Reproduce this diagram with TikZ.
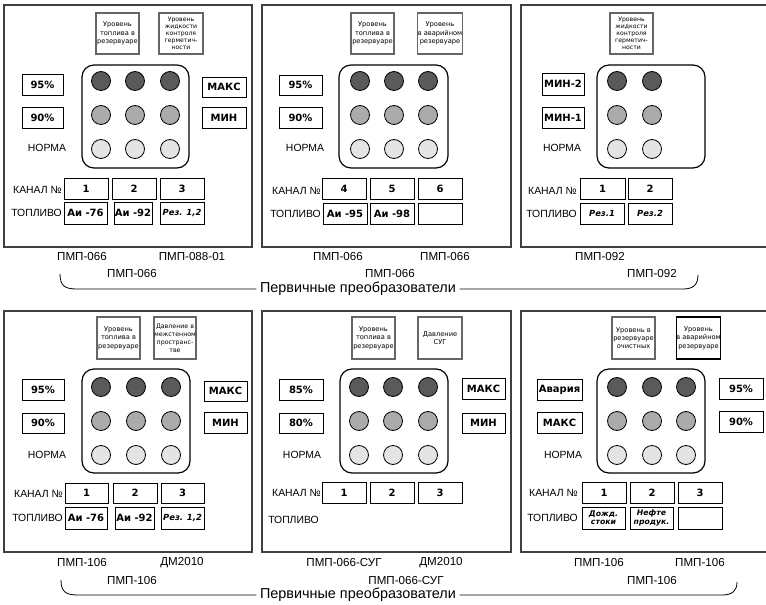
\documentclass[tikz,border=0pt]{standalone}
\usepackage{fontspec}
\setmainfont{Liberation Sans}
\newfontfamily\dvs{DejaVu Sans}
\definecolor{lampdk}{HTML}{5A5A5A}
\definecolor{lampmd}{HTML}{ABABAB}
\definecolor{lamplt}{HTML}{E4E4E4}
\newcommand{\mkbox}[7][]{\node[#1, minimum width={(#4-#2)*0.75pt}, minimum height={(#5-#3)*0.75pt}] (#6) at ({(#2+#4)/2},{(#3+#5)/2}) {#7};}
\newcommand{\mklamps}[4]{% prefix, list of x, y top row, step
  \foreach \cx [count=\ci] in {#2} {
    \node[lamp, fill=lampdk] (#1a\ci) at (\cx,#3) {};
    \node[lamp, fill=lampmd] (#1b\ci) at (\cx,{#3+#4}) {};
    \node[lamp, fill=lamplt] (#1c\ci) at (\cx,{#3+2*#4}) {};
  }}
\tikzset{
  panel/.style={draw=black!75, line width=0.8pt, inner sep=0pt},
  hdr/.style={draw=black!60, line width=0.9pt, inner sep=0pt, align=center, font=\dvs\fontsize{5}{6.2}\selectfont},
  hdrfive/.style={hdr, font=\dvs\fontsize{4.6}{5.3}\selectfont},
  lbox/.style={draw=black, line width=0.7pt, inner sep=0pt, align=center, font=\dvs\bfseries\fontsize{7.5}{9}\selectfont},
  fuelbox/.style={lbox, font=\dvs\bfseries\itshape\fontsize{6.3}{6.6}\selectfont},
  fuelsmall/.style={lbox, font=\dvs\bfseries\itshape\fontsize{5.8}{6.2}\selectfont},
  lamp/.style={circle, draw=black, line width=0.6pt, minimum size=14.25pt, inner sep=0pt},
  lampgrid/.style={draw=black, line width=0.9pt, rounded corners=9pt, inner sep=0pt},
  plbl/.style={font=\fontsize{7.8}{9}\selectfont, inner sep=0pt},
  pmp/.style={font=\fontsize{8.7}{10}\selectfont, inner sep=0pt},
  captext/.style={font=\fontsize{10.8}{12}\selectfont, inner xsep=2.5pt, inner ysep=1pt},
  brace/.style={draw=black, line width=0.6pt},
}
\begin{document}
\begin{tikzpicture}[x=0.75pt, y=-0.75pt]
\useasboundingbox (0,0) rectangle (766,605);
\fill[white] (0,0) rectangle (766,605);

% ---------------- Panel 1 ----------------
\mkbox[panel]{4}{5}{252}{247}{p1}{}
\mkbox[hdr]{96}{13}{139}{54}{p1h1}{Уровень\\топлива в\\резервуаре}
\mkbox[hdrfive]{159}{13}{203}{54}{p1h2}{Уровень\\жидкости\\контроля\\герметич-\\ности}
\mkbox[lampgrid]{82}{65}{189}{168}{p1g}{}
\mklamps{p1}{101,135,170}{81}{34}
\mkbox[lbox]{22}{74}{63}{95}{p1l1}{95\%}
\mkbox[lbox]{22}{107}{63}{128}{p1l2}{90\%}
\mkbox[lbox]{202}{77}{246}{97}{p1r1}{МАКС}
\mkbox[lbox]{202}{107}{246}{128}{p1r2}{МИН}
\node[plbl] (p1n) at (47,148) {НОРМА};
\node[plbl, anchor=east] (p1k) at (62,190) {КАНАЛ №};
\mkbox[lbox]{64}{178}{108}{199}{p1k1}{1}
\mkbox[lbox]{112}{178}{156}{199}{p1k2}{2}
\mkbox[lbox]{160}{178}{204}{199}{p1k3}{3}
\node[plbl, anchor=east] (p1t) at (62,213) {ТОПЛИВО};
\mkbox[lbox]{64}{202}{107}{224}{p1f1}{Аи -76}
\mkbox[lbox]{114}{202}{152}{224}{p1f2}{Аи -92}
\mkbox[fuelbox]{160}{202}{204}{224}{p1f3}{Рез. 1,2}

% ---------------- Panel 2 ----------------
\mkbox[panel]{262}{5}{511}{247}{p2}{}
\mkbox[hdr]{351}{13}{394}{54}{p2h1}{Уровень\\топлива в\\резервуаре}
\mkbox[hdr]{418}{13}{462}{54}{p2h2}{Уровень\\в аварийном\\резервуаре}
\mkbox[lampgrid]{339}{65}{448}{168}{p2g}{}
\mklamps{p2}{360,394,428}{81}{34}
\mkbox[lbox]{279}{75}{322}{95}{p2l1}{95\%}
\mkbox[lbox]{279}{107}{322}{128}{p2l2}{90\%}
\node[plbl] (p2n) at (305,148) {НОРМА};
\node[plbl, anchor=east] (p2k) at (321,191) {КАНАЛ №};
\mkbox[lbox]{322}{178}{366}{199}{p2k1}{4}
\mkbox[lbox]{370}{178}{414}{199}{p2k2}{5}
\mkbox[lbox]{418}{178}{462}{199}{p2k3}{6}
\node[plbl, anchor=east] (p2t) at (321,214) {ТОПЛИВО};
\mkbox[lbox]{323}{203}{367}{224}{p2f1}{Аи -95}
\mkbox[lbox]{370}{203}{414}{224}{p2f2}{Аи -98}
\mkbox[lbox]{418}{203}{462}{224}{p2f3}{}

% ---------------- Panel 3 ----------------
\mkbox[panel]{521}{5}{768}{247}{p3}{}
\mkbox[hdrfive]{610}{13}{653}{54}{p3h1}{Уровень\\жидкости\\контроля\\герметич-\\ности}
\mkbox[lampgrid]{597}{65}{705}{168}{p3g}{}
\mklamps{p3}{617,652}{81}{34}
\mkbox[lbox]{542}{73}{584}{95}{p3l1}{МИН-2}
\mkbox[lbox]{542}{107}{584}{128}{p3l2}{МИН-1}
\node[plbl] (p3n) at (562,148) {НОРМА};
\node[plbl, anchor=east] (p3k) at (577,191) {КАНАЛ №};
\mkbox[lbox]{580}{178}{625}{199}{p3k1}{1}
\mkbox[lbox]{628}{178}{672}{199}{p3k2}{2}
\node[plbl, anchor=east] (p3t) at (577,214) {ТОПЛИВО};
\mkbox[fuelbox]{580}{203}{624}{224}{p3f1}{Рез.1}
\mkbox[fuelbox]{628}{203}{672}{224}{p3f2}{Рез.2}

% ---------------- Top labels and brace ----------------
\node[pmp] (t1a) at (82,257) {ПМП-066};
\node[pmp] (t1b) at (192,257) {ПМП-088-01};
\node[pmp] (t1c) at (132,274) {ПМП-066};
\node[pmp] (t2a) at (338,257) {ПМП-066};
\node[pmp] (t2b) at (445,257) {ПМП-066};
\node[pmp] (t2c) at (390,274) {ПМП-066};
\node[pmp] (t3a) at (600,257) {ПМП-092};
\node[pmp] (t3c) at (652,274) {ПМП-092};
\node[captext] (cap1) at (358,289) {Первичные преобразователи};
\coordinate (b1l) at (60,274);
\coordinate (b1r) at (698,275);
\draw[brace] (b1l) .. controls (60,286) and (65,289) .. (77,289) -- (cap1.west);
\draw[brace] (cap1.east) -- (683,289) .. controls (693,289) and (698,285) .. (b1r);

% ---------------- Panel 4 ----------------
\mkbox[panel]{4}{311}{252}{552}{p4}{}
\mkbox[hdr]{97}{317}{140}{359}{p4h1}{Уровень\\топлива в\\резервуаре}
\mkbox[hdr, font=\dvs\fontsize{4.7}{5.9}\selectfont]{154}{317}{196}{359}{p4h2}{Давление в\\межстенном\\пространс-\\тве}
\mkbox[lampgrid]{82}{369}{190}{473}{p4g}{}
\mklamps{p4}{101,136,171}{387}{34}
\mkbox[lbox]{22}{379}{64}{400}{p4l1}{95\%}
\mkbox[lbox]{22}{413}{64}{433}{p4l2}{90\%}
\mkbox[lbox]{204}{381}{247}{401}{p4r1}{МАКС}
\mkbox[lbox]{204}{412}{247}{433}{p4r2}{МИН}
\node[plbl] (p4n) at (47,455) {НОРМА};
\node[plbl, anchor=east] (p4k) at (63,494) {КАНАЛ №};
\mkbox[lbox]{65}{483}{108}{503}{p4k1}{1}
\mkbox[lbox]{113}{483}{157}{503}{p4k2}{2}
\mkbox[lbox]{161}{483}{204}{503}{p4k3}{3}
\node[plbl, anchor=east] (p4t) at (63,518) {ТОПЛИВО};
\mkbox[lbox]{65}{507}{107}{529}{p4f1}{Аи -76}
\mkbox[lbox]{115}{507}{154}{529}{p4f2}{Аи -92}
\mkbox[fuelbox]{161}{507}{204}{529}{p4f3}{Рез. 1,2}

% ---------------- Panel 5 ----------------
\mkbox[panel]{262}{311}{511}{552}{p5}{}
\mkbox[hdr]{352}{317}{395}{359}{p5h1}{Уровень\\топлива в\\резервуаре}
\mkbox[hdr]{418}{317}{462}{359}{p5h2}{Давление\\СУГ}
\mkbox[lampgrid]{340}{369}{448}{473}{p5g}{}
\mklamps{p5}{359,393,428}{387}{34}
\mkbox[lbox]{279}{379}{323}{400}{p5l1}{85\%}
\mkbox[lbox]{279}{413}{323}{433}{p5l2}{80\%}
\mkbox[lbox]{462}{378}{505}{399}{p5r1}{МАКС}
\mkbox[lbox]{462}{413}{505}{433}{p5r2}{МИН}
\node[plbl] (p5n) at (302,455) {НОРМА};
\node[plbl, anchor=east] (p5k) at (321,493) {КАНАЛ №};
\mkbox[lbox]{322}{482}{366}{503}{p5k1}{1}
\mkbox[lbox]{370}{482}{414}{503}{p5k2}{2}
\mkbox[lbox]{418}{482}{462}{503}{p5k3}{3}
\node[plbl, anchor=west] (p5t) at (268,520) {ТОПЛИВО};

% ---------------- Panel 6 ----------------
\mkbox[panel]{521}{311}{768}{552}{p6}{}
\mkbox[hdr]{612}{317}{655}{359}{p6h1}{Уровень в\\резервуаре\\очистных}
\mkbox[hdr, draw=black]{677}{317}{720}{359}{p6h2}{Уровень\\в аварийном\\резервуаре}
\mkbox[lampgrid]{597}{369}{705}{473}{p6g}{}
\mklamps{p6}{617,652,686}{387}{34}
\mkbox[lbox]{537}{379}{582}{400}{p6l1}{Авария}
\mkbox[lbox]{537}{412}{582}{433}{p6l2}{МАКС}
\mkbox[lbox]{719}{378}{763}{399}{p6r1}{95\%}
\mkbox[lbox]{719}{411}{763}{432}{p6r2}{90\%}
\node[plbl] (p6n) at (563,455) {НОРМА};
\node[plbl, anchor=east] (p6k) at (578,493) {КАНАЛ №};
\mkbox[lbox]{582}{482}{626}{503}{p6k1}{1}
\mkbox[lbox]{630}{482}{674}{503}{p6k2}{2}
\mkbox[lbox]{678}{482}{722}{503}{p6k3}{3}
\node[plbl, anchor=east] (p6t) at (578,518) {ТОПЛИВО};
\mkbox[fuelsmall]{582}{507}{625}{529}{p6f1}{Дожд.\\стоки}
\mkbox[fuelsmall]{630}{507}{673}{529}{p6f2}{Нефте\\продук.}
\mkbox[lbox]{678}{507}{722}{529}{p6f3}{}

% ---------------- Bottom labels and brace ----------------
\node[pmp] (u1a) at (82,563) {ПМП-106};
\node[pmp] (u1b) at (182,563) {ДМ2010};
\node[pmp] (u1c) at (132,581) {ПМП-106};
\node[pmp] (u2a) at (344,563) {ПМП-066-СУГ};
\node[pmp] (u2b) at (441,563) {ДМ2010};
\node[pmp] (u2c) at (406,581) {ПМП-066-СУГ};
\node[pmp] (u3a) at (599,563) {ПМП-106};
\node[pmp] (u3b) at (700,563) {ПМП-106};
\node[pmp] (u3c) at (652,581) {ПМП-106};
\node[captext] (cap2) at (358,595) {Первичные преобразователи};
\coordinate (b2l) at (61,580);
\coordinate (b2r) at (737,582);
\draw[brace] (b2l) .. controls (61,592) and (66,595) .. (78,595) -- (cap2.west);
\draw[brace] (cap2.east) -- (722,595) .. controls (732,595) and (737,591) .. (b2r);
\end{tikzpicture}
\end{document}
